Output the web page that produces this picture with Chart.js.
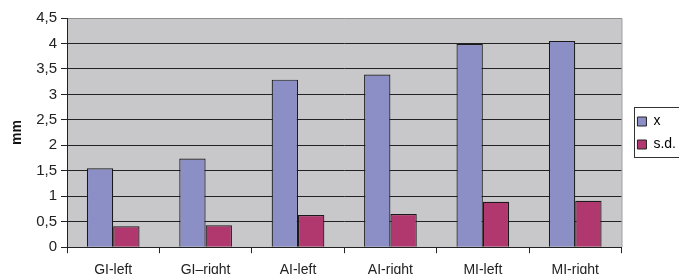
<!DOCTYPE html>
<html>
<head>
<meta charset="utf-8">
<script src="https://cdn.jsdelivr.net/npm/chart.js@4"></script>
<style>
  html, body { margin: 0; padding: 0; background: #fff; overflow: hidden; }
  canvas { display: block; }
</style>
</head>
<body>
<canvas id="chart" width="679" height="288"></canvas>
<script>
// values (mm)
var categories = ["GI-left", "GI\u2013right", "AI-left", "AI-right", "MI-left", "MI-right"];
var meanValues = [1.55, 1.74, 3.29, 3.39, 3.99, 4.05];
var sdValues = [0.41, 0.43, 0.63, 0.65, 0.89, 0.91];
var yTicks = [0, 0.5, 1, 1.5, 2, 2.5, 3, 3.5, 4, 4.5];

function legendShift(chart) {
    var l = chart.legend;
    var mid = (chart.chartArea.top + chart.chartArea.bottom) / 2;
    return Math.round(mid - (l.top + l.bottom) / 2);
}

var plotBackground = {
    id: "plotBackground",
    afterLayout: function (chart) {
        // centre the legend on the plot area instead of the whole canvas
        var l = chart.legend;
        if (!l._origDraw) {
            l._origDraw = l.draw;
            l.draw = function () {
                var c = chart.ctx;
                c.save();
                c.translate(7, legendShift(chart));
                l._origDraw.call(l);
                c.restore();
            };
        }
    },
    beforeDraw: function (chart) {
        var a = chart.chartArea, ctx = chart.ctx;
        ctx.save();
        ctx.fillStyle = "#c8c8ca";
        ctx.fillRect(a.left, a.top, a.right - a.left, a.bottom - a.top);
        ctx.strokeStyle = "#8e8e8e";
        ctx.lineWidth = 1;
        ctx.beginPath();
        ctx.moveTo(a.left, a.top + 0.5);
        ctx.lineTo(a.right + 0.5, a.top + 0.5);
        ctx.lineTo(a.right + 0.5, a.bottom);
        ctx.stroke();
        ctx.restore();
    },
    afterDraw: function (chart) {
        // frame around the legend
        var a = chart.chartArea, ctx = chart.ctx;
        var mid = Math.round((a.top + a.bottom) / 2);
        ctx.save();
        ctx.strokeStyle = "#333";
        ctx.lineWidth = 1;
        ctx.strokeRect(634.5, mid - 25.5, 80, 50);
        ctx.restore();
    }
};

var ctx = document.getElementById("chart").getContext("2d");
new Chart(ctx, {
    type: "bar",
    data: {
        labels: categories,
        datasets: [
            {
                label: "x",
                data: meanValues,
                backgroundColor: "#8b8fc6",
                borderColor: "#1a1a1a",
                borderWidth: 1.2,
            },
            {
                label: "s.d.",
                data: sdValues,
                backgroundColor: "#b0386e",
                borderColor: "#1a1a1a",
                borderWidth: 1.2,
            },
        ],
    },
    options: {
        responsive: false,
        animation: false,
        layout: { padding: { top: 18, left: 0, right: 0, bottom: 0 } },
        datasets: {
            bar: { categoryPercentage: 0.57, barPercentage: 1 },
        },
        plugins: {
            tooltip: { enabled: false },
            legend: {
                position: "right",
                align: "center",
                labels: {
                    boxWidth: 9,
                    boxHeight: 9,
                    padding: 9,
                    color: "#222",
                    font: { family: "Liberation Sans", size: 14 },
                    generateLabels: function (chart) {
                        return chart.data.datasets.map(function (ds, i) {
                            return {
                                text: ds.label,
                                fillStyle: ds.backgroundColor,
                                strokeStyle: "#222",
                                lineWidth: 1,
                                datasetIndex: i,
                            };
                        });
                    },
                },
            },
        },
        scales: {
            x: {
                offset: true,
                grid: {
                    display: true,
                    drawOnChartArea: false,
                    drawTicks: true,
                    tickLength: 6,
                    color: "#222",
                    offset: true,
                },
                border: { color: "#222" },
                ticks: {
                    color: "#222",
                    padding: 9,
                    font: { family: "Liberation Sans", size: 14 },
                    maxRotation: 0,
                },
            },
            y: {
                min: 0,
                max: 4.5,
                afterBuildTicks: function (scale) {
                    scale.ticks = yTicks.map(function (v) { return { value: v }; });
                },
                afterFit: function (scale) { scale.width = 67; },
                grid: {
                    color: function (c) { return c.tick && c.tick.value === 4.5 ? "rgba(0,0,0,0)" : "#222"; },
                    tickColor: "#222",
                    tickLength: 6,
                },
                border: { color: "#222" },
                ticks: {
                    color: "#222",
                    padding: 4,
                    font: { family: "Liberation Sans", size: 15 },
                    callback: function (v) { return String(v).replace(".", ","); },
                },
                title: {
                    display: true,
                    text: "mm",
                    color: "#111",
                    padding: { top: 9, bottom: 4 },
                    font: { family: "Liberation Sans", size: 14, weight: "bold" },
                },
            },
        },
    },
    plugins: [plotBackground],
});
</script>
</body>
</html>
